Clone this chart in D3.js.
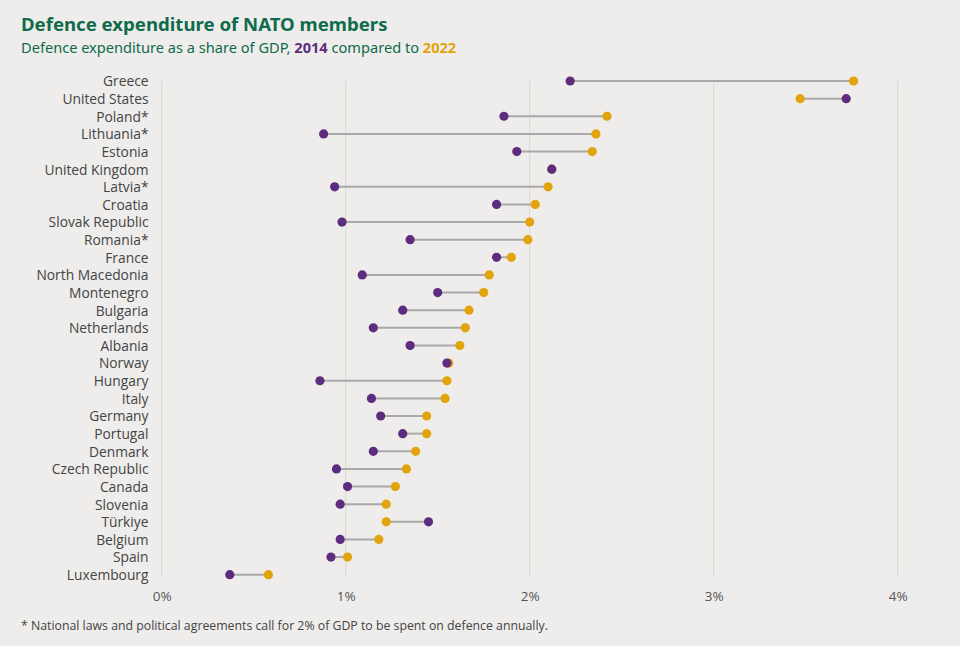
<!DOCTYPE html>
<html>
<head>
<meta charset="utf-8">
<script src="https://cdn.jsdelivr.net/npm/d3@7"></script>
<style>
  html, body { margin: 0; padding: 0; background: #eeedeb; }
  svg { display: block; }
</style>
</head>
<body>
<svg id="chart" width="960" height="646"></svg>
<script>
const countries = ["Greece","United States","Poland*","Lithuania*","Estonia","United Kingdom","Latvia*","Croatia","Slovak Republic","Romania*","France","North Macedonia","Montenegro","Bulgaria","Netherlands","Albania","Norway","Hungary","Italy","Germany","Portugal","Denmark","Czech Republic","Canada","Slovenia","Türkiye","Belgium","Spain","Luxembourg"];
const values2014 = [2.22,3.72,1.86,0.88,1.93,2.12,0.94,1.82,0.98,1.35,1.82,1.09,1.50,1.31,1.15,1.35,1.55,0.86,1.14,1.19,1.31,1.15,0.95,1.01,0.97,1.45,0.97,0.92,0.37];
const values2022 = [3.76,3.47,2.42,2.36,2.34,2.12,2.10,2.03,2.00,1.99,1.90,1.78,1.75,1.67,1.65,1.62,1.56,1.55,1.54,1.44,1.44,1.38,1.33,1.27,1.22,1.22,1.18,1.01,0.58];
const xTicks = [0,1,2,3,4];
const tickLabels = ["0%","1%","2%","3%","4%"];

const svg = d3.select("#chart");
const W = 960, H = 646;
svg.append("rect").attr("width", W).attr("height", H).attr("fill", "#eeedeb");

const x = d3.scaleLinear().domain([0, 4]).range([161.7, 897.7]);
const y = d3.scalePoint().domain(countries).range([81, 574.7]);

const purple = "#5e2c7f";
const gold = "#e2a40c";
const green = "#0f6b4b";

// gridlines
svg.append("g").selectAll("line").data(xTicks).join("line")
  .attr("x1", d => x(d)).attr("x2", d => x(d))
  .attr("y1", y.range()[0]).attr("y2", y.range()[1] + 1)
  .attr("stroke", "#d9d8d6").attr("stroke-width", 1);

// x tick labels via axis
const xAxis = d3.axisBottom(x).tickValues(xTicks).tickFormat((d, i) => tickLabels[i]).tickSize(0).tickPadding(0);
const gx = svg.append("g").attr("transform", "translate(0,596)").call(xAxis);
gx.select(".domain").remove();
gx.selectAll("text").attr("font-family", "'Open Sans', sans-serif").attr("font-size", 13.5).attr("fill", "#555").attr("dy", "0.35em").attr("y", 0);

// y labels via axis
const yAxis = d3.axisLeft(y).tickSize(0).tickPadding(0);
const gy = svg.append("g").attr("transform", "translate(148.5,0)").call(yAxis);
gy.select(".domain").remove();
gy.selectAll("text").attr("font-family", "'Open Sans', sans-serif").attr("font-size", 13.8).attr("fill", "#444").attr("dy", "0.35em");

const rows = countries.map((c, i) => ({c, a: values2014[i], b: values2022[i]}));

// stems
svg.append("g").selectAll("line").data(rows).join("line")
  .attr("x1", d => x(d.a)).attr("x2", d => x(d.b))
  .attr("y1", d => y(d.c)).attr("y2", d => y(d.c))
  .attr("stroke", "#a9a9a9").attr("stroke-width", 2);

// 2022 dots
svg.append("g").selectAll("circle").data(rows).join("circle")
  .attr("cx", d => x(d.b)).attr("cy", d => y(d.c)).attr("r", 4.6).attr("fill", gold);
// 2014 dots
svg.append("g").selectAll("circle").data(rows).join("circle")
  .attr("cx", d => x(d.a)).attr("cy", d => y(d.c)).attr("r", 4.6).attr("fill", purple);

// Title
svg.append("text").attr("x", 21).attr("y", 31)
  .attr("font-family", "'Noto Sans', sans-serif").attr("font-weight", 700).attr("font-size", 18.6)
  .attr("fill", green).text("Defence expenditure of NATO members");

const sub = svg.append("text").attr("x", 21).attr("y", 53)
  .attr("font-family", "'Noto Sans', sans-serif").attr("font-size", 14.6).attr("fill", green);
sub.append("tspan").text("Defence expenditure as a share of GDP, ");
sub.append("tspan").attr("font-weight", 700).attr("fill", purple).text("2014");
sub.append("tspan").text(" compared to ");
sub.append("tspan").attr("font-weight", 700).attr("fill", gold).text("2022");

// Footnote
svg.append("text").attr("x", 21).attr("y", 630)
  .attr("font-family", "'Open Sans', sans-serif").attr("font-size", 12.3).attr("fill", "#444")
  .text("* National laws and political agreements call for 2% of GDP to be spent on defence annually.");
</script>
</body>
</html>
